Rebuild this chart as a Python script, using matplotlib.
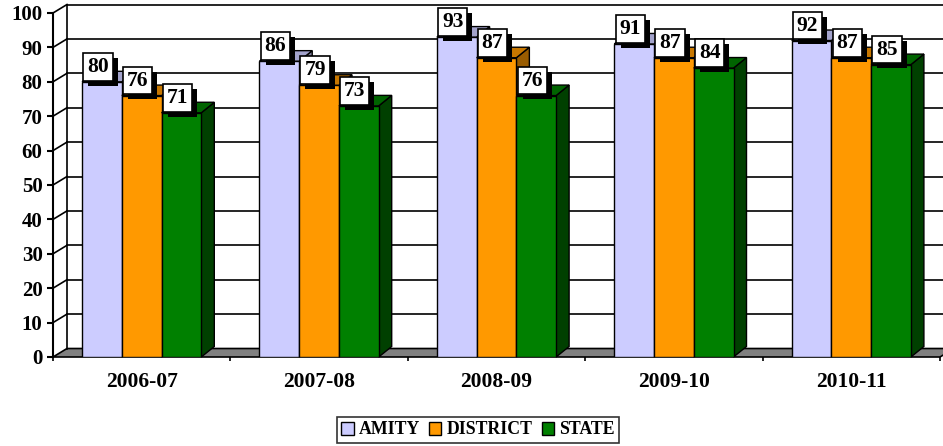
import matplotlib
matplotlib.use("Agg")
import matplotlib.pyplot as plt
from matplotlib.patches import Polygon, Patch
from matplotlib import patheffects as pe

categories = ["2006-07", "2007-08", "2008-09", "2009-10", "2010-11"]
series_names = ["AMITY", "DISTRICT", "STATE"]
amity = [80, 86, 93, 91, 92]
district = [76, 79, 87, 87, 87]
state = [71, 73, 76, 84, 85]
y_ticks = [0, 10, 20, 30, 40, 50, 60, 70, 80, 90, 100]

front_colors = ["#CCCCFF", "#FF9900", "#008000"]
top_colors = ["#A3A3CC", "#C77700", "#006400"]
side_colors = ["#7A7A99", "#995C00", "#004000"]

W, H = 943, 446
fig = plt.figure(figsize=(W / 100, H / 100), dpi=100)
ax_l, ax_r, ax_t, ax_b = 53, 940, 13, 357
ax = fig.add_axes([ax_l / W, (H - ax_b) / H, (ax_r - ax_l) / W, (ax_b - ax_t) / H])
n = len(categories)
ax.set_xlim(0, n)
ax.set_ylim(0, 100)

px_x = n / (ax_r - ax_l)      # data units per pixel, x
px_y = 100 / (ax_b - ax_t)    # data units per pixel, y

# wall depth
DXw, DYw = 14 * px_x, 8.5 * px_y
# bar depth
DXb, DYb = 13 * px_x, 10.5 * px_y

serif = ["Liberation Serif", "DejaVu Serif"]

# floor
floor = Polygon([(0, 0), (n, 0), (n + DXw, DYw), (DXw, DYw)], closed=True,
                facecolor="#808080", edgecolor="black", lw=1.2, clip_on=False, zorder=1)
ax.add_patch(floor)

# walls and gridlines
for v in y_ticks[1:]:
    ax.plot([0, DXw], [v, v + DYw], color="black", lw=1.2, clip_on=False, zorder=1)
    ax.plot([DXw, n + DXw], [v + DYw, v + DYw], color="black", lw=1.2, clip_on=False, zorder=1)
ax.plot([DXw, DXw], [DYw, 100 + DYw], color="black", lw=1.2, clip_on=False, zorder=1)

# bars
bw = 0.224
all_vals = [amity, district, state]
for i in range(n):
    for s, vals in enumerate(all_vals):
        v = vals[i]
        x0 = i + 0.5 + (s - 1.5) * bw
        ax.bar(x0, v, width=bw, align="edge", color=front_colors[s], edgecolor="black",
               lw=1.0, zorder=3 + i * 3 + s)
        top = Polygon([(x0, v), (x0 + bw, v), (x0 + bw + DXb, v + DYb), (x0 + DXb, v + DYb)],
                      closed=True, facecolor=top_colors[s], edgecolor="black", lw=1.0,
                      clip_on=False, zorder=3 + i * 3 + s)
        side = Polygon([(x0 + bw, 0), (x0 + bw + DXb, DYb), (x0 + bw + DXb, v + DYb), (x0 + bw, v)],
                       closed=True, facecolor=side_colors[s], edgecolor="black", lw=1.0,
                       clip_on=False, zorder=3 + i * 3 + s - 0.5)
        ax.add_patch(top)
        ax.add_patch(side)

# data labels with shadowed boxes
for i in range(n):
    for s, vals in enumerate(all_vals):
        v = vals[i]
        xc = i + 0.5 + (s - 1) * bw
        z = 50 + i * 3 + s
        ann = ax.annotate(str(v), xy=(xc, v), xytext=(-4, 15), textcoords="offset pixels",
                          ha="center", va="center", fontsize=15.5, fontweight="bold", family=serif,
                          color="black", annotation_clip=False, zorder=z,
                          bbox=dict(boxstyle="square,pad=0.18", facecolor="white",
                                    edgecolor="black", lw=1.2))
        ann.get_bbox_patch().set_path_effects([
            pe.SimplePatchShadow(offset=(3.6, -3.6), shadow_rgbFace="black", alpha=1.0),
            pe.Normal()])

# axes styling
for sp in ["top", "right"]:
    ax.spines[sp].set_visible(False)
ax.spines["left"].set_linewidth(1.5)
ax.spines["bottom"].set_visible(False)
ax.set_yticks(y_ticks)
ax.set_yticklabels([str(t) for t in y_ticks], fontsize=15, fontweight="bold", family=serif)
ax.tick_params(axis="y", direction="out", length=4.5, width=1.5, pad=3)
ax.set_xticks(range(n + 1))
ax.set_xticklabels([""] * (n + 1))
ax.tick_params(axis="x", which="major", direction="out", length=3, width=1.2)
ax.set_xticks([i + 0.5 for i in range(n)], minor=True)
ax.set_xticklabels(categories, minor=True, fontsize=15.5, fontweight="bold", family=serif)
ax.tick_params(axis="x", which="minor", length=0, pad=11)
ax.set_facecolor("none")

handles = [Patch(facecolor=front_colors[s], edgecolor="black", lw=1.0) for s in range(3)]
leg = fig.legend(handles, series_names, loc="center", bbox_to_anchor=(478 / W, 1 - 430 / H),
                 ncol=3, frameon=True, fancybox=False, shadow=False, borderpad=0.25,
                 handlelength=0.7, handleheight=0.7, handletextpad=0.3, columnspacing=0.5,
                 prop=dict(family=serif, weight="bold", size=12.8))
leg.get_frame().set_edgecolor("black")
leg.get_frame().set_linewidth(1.2)

fig.savefig("out.png", dpi=100)
